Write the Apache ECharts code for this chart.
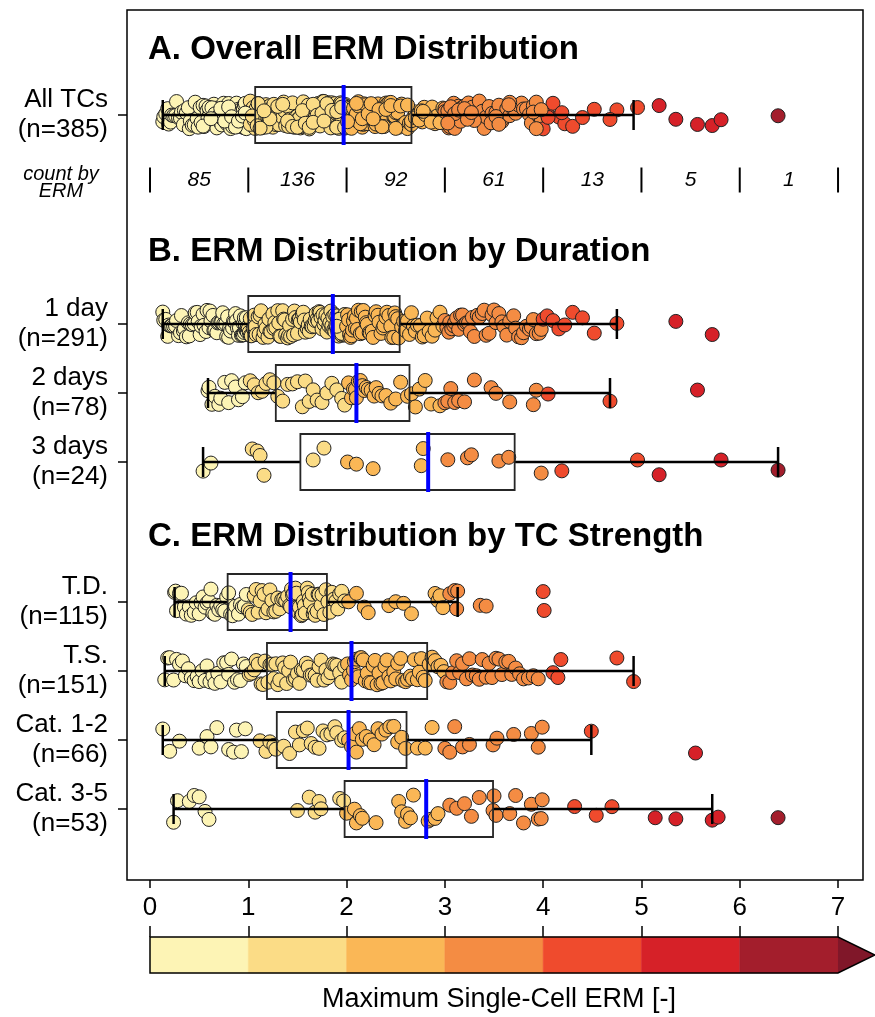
<!DOCTYPE html>
<html>
<head>
<meta charset="utf-8">
<script src="https://cdn.jsdelivr.net/npm/echarts@6.0.0/dist/echarts.min.js"></script>
<style>
html, body {margin: 0; padding: 0; background: #fff;}
#chart {width: 875px; height: 1017px;}
</style>
</head>
<body>
<div id="chart"></div>
<script>
// ERM values per group (one value per dot)
var erm1Day = [
    0.13, 0.14, 0.16, 0.18, 0.19, 0.21, 0.22, 0.24, 0.26, 0.27,
    0.29, 0.31, 0.32, 0.34, 0.35, 0.37, 0.39, 0.4, 0.41, 0.43,
    0.45, 0.46, 0.48, 0.49, 0.51, 0.52, 0.54, 0.55, 0.57, 0.58,
    0.6, 0.61, 0.62, 0.64, 0.65, 0.66, 0.68, 0.69, 0.7, 0.72,
    0.73, 0.74, 0.75, 0.77, 0.78, 0.79, 0.8, 0.81, 0.82, 0.84,
    0.85, 0.86, 0.87, 0.88, 0.89, 0.9, 0.91, 0.92, 0.93, 0.94,
    0.95, 0.95, 0.96, 0.96, 0.97, 0.97, 0.98, 0.98, 0.99, 0.99,
    1.0, 1.01, 1.02, 1.02, 1.03, 1.05, 1.06, 1.07, 1.08, 1.1,
    1.11, 1.12, 1.13, 1.15, 1.16, 1.17, 1.18, 1.2, 1.21, 1.22,
    1.23, 1.25, 1.26, 1.27, 1.28, 1.3, 1.31, 1.32, 1.33, 1.35,
    1.36, 1.37, 1.38, 1.4, 1.41, 1.42, 1.43, 1.45, 1.46, 1.47,
    1.48, 1.5, 1.51, 1.52, 1.53, 1.55, 1.56, 1.57, 1.58, 1.6,
    1.61, 1.62, 1.63, 1.64, 1.65, 1.67, 1.68, 1.69, 1.7, 1.71,
    1.72, 1.73, 1.74, 1.75, 1.76, 1.77, 1.78, 1.79, 1.8, 1.81,
    1.82, 1.83, 1.84, 1.85, 1.85, 1.86, 1.87, 1.88, 1.88, 1.89,
    1.9, 1.9, 1.91, 1.91, 1.92, 1.92, 1.93, 1.93, 1.94, 1.94,
    1.95, 1.95, 1.96, 1.96, 1.97, 1.97, 1.97, 1.98, 1.98, 1.98,
    1.99, 1.99, 1.99, 1.99, 1.95, 1.93, 1.9,
    2.0, 2.01, 2.02, 2.03, 2.04, 2.05, 2.06, 2.07, 2.08, 2.09,
    2.1, 2.11, 2.12, 2.14, 2.15, 2.16, 2.17, 2.19, 2.2, 2.21,
    2.23, 2.24, 2.26, 2.27, 2.29, 2.3, 2.32, 2.33, 2.35, 2.37,
    2.38, 2.4, 2.41, 2.43, 2.45, 2.46, 2.48, 2.49, 2.5, 2.52,
    2.53, 2.56, 2.58, 2.6, 2.62, 2.64, 2.66, 2.68, 2.7, 2.72,
    2.75, 2.77, 2.79, 2.82, 2.84, 2.87, 2.9, 2.92, 2.95, 2.98,
    3.0, 3.02, 3.04, 3.05, 3.07, 3.09, 3.1, 3.12, 3.14, 3.16,
    3.18, 3.2, 3.22, 3.24, 3.26, 3.28, 3.3, 3.33, 3.35, 3.38,
    3.4, 3.42, 3.45, 3.48, 3.5, 3.52, 3.55, 3.58, 3.6, 3.63,
    3.66, 3.7, 3.72, 3.75, 3.78, 3.8, 3.83, 3.86, 3.88, 3.9,
    3.93, 3.96, 3.98,
    4.0, 4.04, 4.1, 4.16, 4.22, 4.3, 4.4, 4.52, 4.75,
    5.35, 5.72
]
var erm2Days = [
    0.59, 0.6, 0.63, 0.66, 0.7, 0.72, 0.76, 0.8, 0.83, 0.87, 0.9, 0.94, 0.97,
    1.02, 1.06, 1.1, 1.14, 1.18, 1.22, 1.26, 1.3, 1.35, 1.4, 1.45, 1.5,
    1.55, 1.58, 1.62, 1.66, 1.7, 1.75, 1.8, 1.85, 1.9, 1.95, 1.98,
    2.02, 2.05, 2.07, 2.09, 2.1, 2.12, 2.14, 2.16, 2.18, 2.2, 2.22, 2.25, 2.28, 2.3,
    2.33, 2.36, 2.4, 2.45, 2.5, 2.55, 2.62, 2.66, 2.7, 2.74, 2.8, 2.86, 2.95,
    3.0, 3.03, 3.06, 3.1, 3.14, 3.2, 3.3, 3.47, 3.52, 3.66, 3.9, 3.93,
    4.05, 4.68,
    5.57
]
var erm3Days = [
    0.54, 0.62, 1.04, 1.09, 1.12, 1.16, 1.66, 1.77, 2.01, 2.1, 2.27, 2.76,
    2.78, 3.03, 3.23, 3.27, 3.55, 3.65, 3.98, 4.19, 4.96, 5.18, 5.81, 6.39
]
var ermTD = [
    0.25, 0.26, 0.27, 0.3, 0.32, 0.35, 0.37, 0.4, 0.42, 0.45,
    0.47, 0.5, 0.52, 0.54, 0.56, 0.58, 0.6, 0.62, 0.64, 0.66,
    0.68, 0.7, 0.72, 0.74, 0.76, 0.78, 0.8, 0.82, 0.84, 0.87,
    0.9, 0.92, 0.94, 0.96, 0.98,
    1.0, 1.02, 1.04, 1.06, 1.08, 1.1, 1.12, 1.14, 1.16, 1.18, 1.2,
    1.22, 1.24, 1.26, 1.28, 1.3, 1.32, 1.34, 1.36, 1.38, 1.4, 1.42,
    1.43, 1.44, 1.45, 1.46, 1.48, 1.49, 1.5, 1.51, 1.52, 1.54,
    1.55, 1.56, 1.57, 1.58, 1.6, 1.61, 1.62, 1.63, 1.65, 1.66,
    1.67, 1.68, 1.7, 1.71, 1.72, 1.74, 1.75, 1.77, 1.79,
    1.81, 1.83, 1.85, 1.87, 1.89, 1.91, 1.93, 1.95, 1.98,
    2.02, 2.1, 2.18, 2.22, 2.43, 2.5, 2.58, 2.66, 2.9, 2.93, 2.95, 2.98,
    3.05, 3.1, 3.12, 3.13, 3.36, 3.42,
    4.0, 4.01
]
var ermTS = [
    0.15, 0.18, 0.2, 0.24, 0.27, 0.3, 0.33, 0.36, 0.39, 0.42,
    0.45, 0.48, 0.5, 0.53, 0.56, 0.58, 0.61, 0.64, 0.66, 0.69,
    0.72, 0.75, 0.78, 0.8, 0.83, 0.86, 0.89, 0.92, 0.95, 0.98,
    1.01, 1.03, 1.06, 1.08, 1.1, 1.13, 1.15, 1.17,
    1.2, 1.22, 1.24, 1.26, 1.28, 1.3, 1.32, 1.35, 1.37, 1.39,
    1.41, 1.43, 1.46, 1.48, 1.5, 1.52, 1.54, 1.56, 1.59, 1.61,
    1.63, 1.65, 1.68, 1.7, 1.72, 1.74, 1.77, 1.79, 1.81, 1.84,
    1.86, 1.88, 1.9, 1.93, 1.95, 1.98,
    2.01, 2.03, 2.05, 2.07, 2.08, 2.1, 2.12, 2.14, 2.15, 2.17, 2.19, 2.21,
    2.23, 2.25, 2.27, 2.29, 2.31, 2.33, 2.35, 2.37, 2.39, 2.41,
    2.43, 2.45, 2.48, 2.5, 2.52, 2.55, 2.57, 2.6, 2.62, 2.65,
    2.67, 2.69, 2.72, 2.74, 2.76, 2.78, 2.8,
    2.84, 2.87, 2.9, 2.93, 2.96, 2.99,
    3.02, 3.05, 3.08, 3.12, 3.15, 3.18, 3.22, 3.25, 3.28, 3.32,
    3.35, 3.38, 3.42, 3.45, 3.48, 3.52, 3.55, 3.58, 3.62, 3.65,
    3.68, 3.72, 3.76, 3.8, 3.85, 3.9, 3.95,
    4.1, 4.15, 4.18, 4.75, 4.92
]
var ermCat12 = [
    0.13, 0.2, 0.3, 0.5, 0.58, 0.62, 0.68, 0.8, 0.85, 0.88, 0.93, 0.97,
    1.12, 1.18, 1.22, 1.26, 1.28, 1.36, 1.42, 1.48, 1.52, 1.56,
    1.6, 1.64, 1.68, 1.72, 1.76, 1.8, 1.84, 1.88, 1.9, 1.95, 1.98,
    2.02, 2.05, 2.08, 2.1, 2.13, 2.16, 2.2, 2.24, 2.28, 2.32,
    2.36, 2.4, 2.44, 2.48, 2.52, 2.56, 2.6, 2.72, 2.8, 2.87,
    3.0, 3.05, 3.1, 3.18, 3.25, 3.49, 3.53, 3.7, 3.88, 3.95, 3.99,
    4.49,
    5.55
]
var ermCat35 = [
    0.24, 0.28, 0.4, 0.45, 0.5, 0.56, 0.6,
    1.5, 1.62, 1.68, 1.72, 1.74, 1.93, 1.97,
    2.0, 2.08, 2.1, 2.14, 2.16, 2.3, 2.53, 2.56, 2.6, 2.62, 2.65, 2.68, 2.83, 2.86, 2.9, 2.93,
    3.05, 3.12, 3.2, 3.27, 3.35, 3.49, 3.5, 3.52, 3.66, 3.72, 3.8, 3.88, 3.95, 3.98, 3.99,
    4.32, 4.54, 4.7,
    5.14, 5.35, 5.72, 5.78,
    6.39
]
var ermAll = erm1Day.concat(erm2Days, erm3Days)

var rowLabels = ['All TCs\n(n=385)', '1 day\n(n=291)', '2 days\n(n=78)', '3 days\n(n=24)',
    'T.D.\n(n=115)', 'T.S.\n(n=151)', 'Cat. 1-2\n(n=66)', 'Cat. 3-5\n(n=53)']
var rowGroups = [ermAll, erm1Day, erm2Days, erm3Days, ermTD, ermTS, ermCat12, ermCat35]

// box statistics: whisker low, Q1, median, Q3, whisker high
var boxLow = [0.13, 0.13, 0.59, 0.54, 0.25, 0.15, 0.13, 0.24]
var boxQ1 = [1.07, 1.0, 1.28, 1.53, 0.79, 1.19, 1.29, 1.98]
var boxMed = [1.97, 1.86, 2.1, 2.83, 1.43, 2.05, 2.02, 2.81]
var boxQ3 = [2.66, 2.54, 2.64, 3.71, 1.80, 2.82, 2.61, 3.49]
var boxHigh = [4.92, 4.75, 4.68, 6.39, 3.13, 4.92, 4.49, 5.72]

var binEdges = [0, 1, 2, 3, 4, 5, 6, 7]
var binCounts = [85, 136, 92, 61, 13, 5, 1]
var binColors = ['#fdf4b5', '#fbdc86', '#fab756', '#f48c43', '#ef4b2d', '#d62128', '#a31e2c']
var extendColor = '#801729'

var sectionTitles = ['A. Overall ERM Distribution', 'B. ERM Distribution by Duration', 'C. ERM Distribution by TC Strength']

// layout: y positions are pixels from the top of the plot box
var rowY = [105, 314, 383, 452, 592, 661, 730, 799]
var countRowY = 170
var sectionTitleY = [50, 252, 537]

var FONT = '"Liberation Sans", Arial, sans-serif'
var JITTER = 14

function binColor(v) {
    return binColors[Math.min(binColors.length - 1, Math.floor(v))]
}

// vertical spread of the dots, same every run
function jitter(k, r) {
    var s = Math.sin((k + 1) * 12.9898 + (r + 1) * 78.233) * 43758.5453
    return (s - Math.floor(s) - 0.5) * 2 * JITTER
}

var pointData = []
rowGroups.forEach(function (arr, r) {
    arr.forEach(function (v, k) {
        pointData.push([v, rowY[r] + jitter(k, r)])
    })
})

var boxData = rowY.map(function (y, i) {
    return [y, boxLow[i], boxQ1[i], boxMed[i], boxQ3[i], boxHigh[i]]
})

function renderBox(params, api) {
    var y = api.value(0)
    var lo = api.coord([api.value(1), y])
    var q1 = api.coord([api.value(2), y])
    var md = api.coord([api.value(3), y])
    var q3 = api.coord([api.value(4), y])
    var hi = api.coord([api.value(5), y])
    var cy = lo[1]
    var h = 56, cap = 30
    var black = {stroke: '#000', lineWidth: 2.5}
    return {
        type: 'group',
        children: [
            {type: 'line', shape: {x1: lo[0], y1: cy, x2: q1[0], y2: cy}, style: black},
            {type: 'line', shape: {x1: q3[0], y1: cy, x2: hi[0], y2: cy}, style: black},
            {type: 'line', shape: {x1: lo[0], y1: cy - cap / 2, x2: lo[0], y2: cy + cap / 2}, style: black},
            {type: 'line', shape: {x1: hi[0], y1: cy - cap / 2, x2: hi[0], y2: cy + cap / 2}, style: black},
            {type: 'rect', shape: {x: q1[0], y: cy - h / 2, width: q3[0] - q1[0], height: h},
                style: {fill: 'none', stroke: '#262626', lineWidth: 1.8}},
            {type: 'line', shape: {x1: md[0], y1: cy - h / 2 - 2, x2: md[0], y2: cy + h / 2 + 2},
                style: {stroke: '#0000ff', lineWidth: 4}}
        ]
    }
}

function renderCount(params, api) {
    var a = api.coord([api.value(0), countRowY])
    var b = api.coord([api.value(1), countRowY])
    var cy = a[1]
    var kids = [
        {type: 'line', shape: {x1: a[0], y1: cy - 12.5, x2: a[0], y2: cy + 12.5}, style: {stroke: '#000', lineWidth: 2}},
        {type: 'text', x: (a[0] + b[0]) / 2, y: cy,
            style: {text: String(api.value(2)), fontSize: 21, fontStyle: 'italic', fontFamily: FONT, fill: '#000',
                align: 'center', verticalAlign: 'middle', textAlign: 'center', textVerticalAlign: 'middle'}}
    ]
    if (params.dataIndex === binCounts.length - 1) {
        kids.push({type: 'line', shape: {x1: b[0], y1: cy - 12.5, x2: b[0], y2: cy + 12.5}, style: {stroke: '#000', lineWidth: 2}})
    }
    return {type: 'group', children: kids}
}

function renderBin(params, api) {
    var p0 = api.coord([api.value(0), 1])
    var p1 = api.coord([api.value(1), 0])
    return {
        type: 'rect',
        shape: {x: p0[0], y: p0[1], width: p1[0] - p0[0], height: p1[1] - p0[1]},
        style: {fill: binColors[params.dataIndex], stroke: binColors[params.dataIndex], lineWidth: 0.5}
    }
}

// the arrow for values above 7 plus the outline of the whole bar
function renderExtend(params, api) {
    var tl = api.coord([0, 1]), bl = api.coord([0, 0])
    var tr = api.coord([api.value(0), 1]), br = api.coord([api.value(0), 0])
    var tip = [tr[0] + 37, (tr[1] + br[1]) / 2]
    return {
        type: 'group',
        children: [
            {type: 'polygon', shape: {points: [tr, tip, br]}, style: {fill: extendColor}},
            {type: 'polygon', shape: {points: [tl, tr, tip, br, bl]}, style: {fill: 'none', stroke: '#000', lineWidth: 1.5}}
        ]
    }
}

var chart = echarts.init(document.getElementById('chart'))
chart.setOption({
    animation: false,
    backgroundColor: '#fff',
    textStyle: {fontFamily: FONT},
    grid: [
        {left: 127, top: 10, width: 736, height: 870, show: true, borderColor: '#000', borderWidth: 1.5},
        {left: 150, top: 937, width: 688, height: 36}
    ],
    xAxis: [
        {
            gridIndex: 0, type: 'value', position: 'bottom', min: -0.234, max: 7.254,
            axisLine: {show: false, onZero: false}, splitLine: {show: false},
            axisTick: {show: true, customValues: binEdges, length: 8, lineStyle: {color: '#000', width: 1.5}},
            axisLabel: {show: false}
        },
        {
            gridIndex: 1, type: 'value', position: 'top', min: 0, max: 7, interval: 1,
            axisLine: {show: false, onZero: false}, splitLine: {show: false},
            axisTick: {show: true, length: 11, lineStyle: {color: '#000', width: 1.5}},
            axisLabel: {fontSize: 26, color: '#000', margin: 16, fontFamily: FONT}
        }
    ],
    yAxis: [
        {
            gridIndex: 0, type: 'value', position: 'left', inverse: true, min: 0, max: 870,
            axisLine: {show: false, onZero: false}, splitLine: {show: false},
            axisTick: {show: true, customValues: rowY, length: 9, lineStyle: {color: '#000', width: 1.5}},
            axisLabel: {
                customValues: rowY, fontSize: 26, lineHeight: 30, color: '#000', margin: 19, align: 'right', fontFamily: FONT,
                formatter: function (v) { return rowLabels[rowY.indexOf(v)] }
            }
        },
        {gridIndex: 1, type: 'value', min: 0, max: 1, show: false}
    ],
    graphic: sectionTitles.map(function (t, i) {
        return {
            type: 'text', x: 148, y: sectionTitleY[i],
            style: {text: t, font: 'bold 33px ' + FONT, fill: '#000',
                verticalAlign: 'middle', textVerticalAlign: 'middle'}
        }
    }).concat([
        {
            type: 'text', x: 61, y: 183,
            style: {text: 'count by\nERM', font: 'italic 20px ' + FONT, fill: '#000', lineHeight: 17,
                align: 'center', verticalAlign: 'middle', textAlign: 'center', textVerticalAlign: 'middle'}
        },
        {
            type: 'text', x: 499, y: 1000,
            style: {text: 'Maximum Single-Cell ERM [-]', font: '27px ' + FONT, fill: '#000',
                align: 'center', verticalAlign: 'middle', textAlign: 'center', textVerticalAlign: 'middle'}
        }
    ]),
    series: [
        {
            type: 'scatter', xAxisIndex: 0, yAxisIndex: 0, data: pointData,
            symbolSize: 14, progressive: 0, z: 2,
            itemStyle: {
                color: function (p) { return binColor(p.value[0]) },
                borderColor: '#222', borderWidth: 1, opacity: 1
            }
        },
        {
            type: 'custom', xAxisIndex: 0, yAxisIndex: 0, z: 3,
            data: boxData, encode: {x: [1, 2, 3, 4, 5], y: 0},
            renderItem: renderBox
        },
        {
            type: 'custom', xAxisIndex: 0, yAxisIndex: 0, z: 3,
            data: binCounts.map(function (c, i) { return [binEdges[i], binEdges[i + 1], c] }),
            encode: {x: [0, 1]},
            renderItem: renderCount
        },
        {
            type: 'custom', xAxisIndex: 1, yAxisIndex: 1,
            data: binColors.map(function (c, i) { return [binEdges[i], binEdges[i + 1]] }),
            encode: {x: [0, 1]},
            renderItem: renderBin
        },
        {
            type: 'custom', xAxisIndex: 1, yAxisIndex: 1, z: 4,
            data: [[binEdges[binEdges.length - 1]]],
            encode: {x: 0},
            renderItem: renderExtend
        }
    ]
})
</script>
</body>
</html>
